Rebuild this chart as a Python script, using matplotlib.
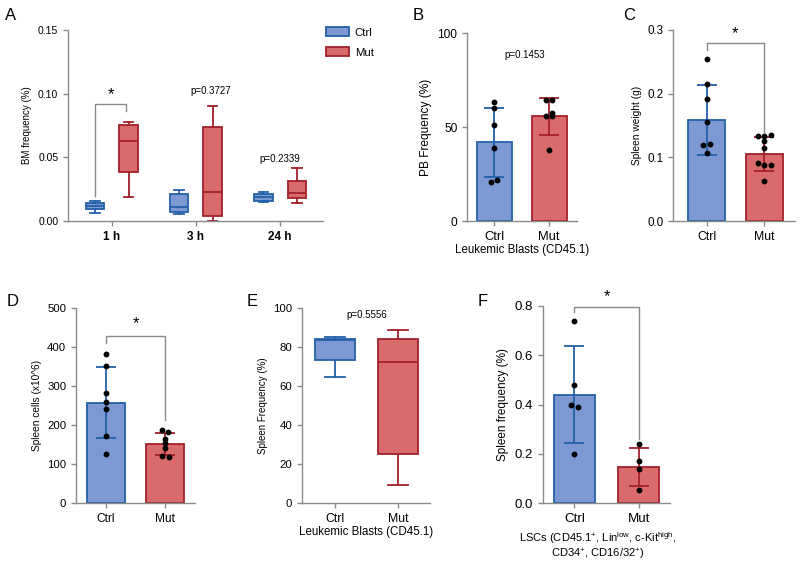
import numpy as np
import matplotlib
matplotlib.use("Agg")
import matplotlib.pyplot as plt
from matplotlib.patches import Patch

plt.rcParams['font.family'] = ['Liberation Sans', 'DejaVu Sans']
plt.rcParams['mathtext.fontset'] = 'custom'
plt.rcParams['mathtext.rm'] = 'Liberation Sans'
plt.rcParams['mathtext.it'] = 'Liberation Sans:italic'

# ---- data ----
groups = ["Ctrl", "Mut"]
timepoints = ["1 h", "3 h", "24 h"]

# panel A box stats: (whislo, q1, med, q3, whishi)
bm_ctrl = [(0.006, 0.0092, 0.0118, 0.0141, 0.016),
           (0.0052, 0.0068, 0.0107, 0.021, 0.0246),
           (0.0149, 0.0157, 0.0186, 0.021, 0.0228)]
bm_mut = [(0.0188, 0.0387, 0.063, 0.075, 0.078),
          (0.0, 0.0042, 0.0225, 0.074, 0.090),
          (0.0141, 0.0178, 0.022, 0.0312, 0.0419)]
bm_pvals = ["*", "p=0.3727", "p=0.2339"]

# panel B: PB frequency (%)
pb_ctrl = [63.1, 60.0, 50.8, 38.9, 20.6, 21.7]
pb_mut = [64.5, 64.1, 56.1, 57.5, 55.6, 37.8]
pb_mean = [41.9, 55.6]
pb_sd = [18.4, 9.8]

# panel C: spleen weight (g)
sw_ctrl = [0.2545, 0.215, 0.1916, 0.155, 0.1188, 0.1215, 0.1068]
sw_mut = [0.134, 0.134, 0.135, 0.126, 0.114, 0.091, 0.088, 0.088, 0.063]
sw_mean = [0.1586, 0.1058]
sw_sd = [0.0555, 0.0265]

# panel D: spleen cells (x10^6)
sc_ctrl = [382, 352, 283, 259, 242, 173, 126]
sc_mut = [186, 183, 165, 153, 141, 120, 118]
sc_mean = [257, 151]
sc_sd = [91, 28]

# panel E: spleen frequency box stats
sf_ctrl = (64.4, 73.2, 83.6, 84.2, 85.0)
sf_mut = (9.1, 25.3, 72.3, 84.1, 88.5)

# panel F: LSC spleen frequency (%)
lsc_ctrl = [0.740, 0.480, 0.400, 0.391, 0.200]
lsc_mut = [0.241, 0.172, 0.139, 0.053]
lsc_mean = [0.44, 0.1475]
lsc_sd = [0.197, 0.077]

# horizontal scatter of the dots (style only)
jit_B = ([0, 0, 0, 0, -0.07, 0.05], [-0.055, 0.05, -0.06, 0.06, 0.06, 0])
jit_C = ([0, 0, 0, 0, -0.06, 0.06, 0], [-0.115, 0, 0.115, 0, 0, -0.115, 0, 0.115, 0])
jit_D = ([0] * 7, [-0.06, 0.05, 0, 0, 0, -0.06, 0.06])
jit_F = ([0, 0, -0.05, 0.06, 0], [0, 0, 0, 0])

# ---- style ----
BLUE_F, BLUE_E = "#7d99d3", "#2360a8"
RED_F, RED_E = "#d96b6c", "#a3202a"
GREY = "#8a8a8a"
fills = [BLUE_F, RED_F]
edges = [BLUE_E, RED_E]

W, H = 800, 562
fig = plt.figure(figsize=(W / 100, H / 100), dpi=100)


def add_ax(l, r, t, b):
    return fig.add_axes([l / W, 1 - b / H, (r - l) / W, (b - t) / H])


def style(ax, ts):
    for s in ["top", "right"]:
        ax.spines[s].set_visible(False)
    for s in ["left", "bottom"]:
        ax.spines[s].set_color(GREY)
        ax.spines[s].set_linewidth(1.0)
    ax.tick_params(colors=GREY, labelcolor="black", length=3.5, width=1.0, labelsize=ts)


def bars(ax, mean, sd, pts_c, pts_m, jit, gs, width=0.64):
    x = np.arange(2)
    ax.bar(x, mean, width=width, color=fills, edgecolor=edges, linewidth=1.3, zorder=2)
    for i, pts in enumerate([pts_c, pts_m]):
        ax.errorbar(x[i], mean[i], yerr=sd[i], color=edges[i], capsize=7, elinewidth=1.3,
                    capthick=1.3, zorder=3)
        ax.plot(x[i] + np.array(jit[i]), pts, "o", color="black", ms=3.2, zorder=4)
    ax.set_xticks(x)
    ax.set_xticklabels(groups, fontsize=gs)


def bracket(ax, x0, x1, y, yl, yr, star_y):
    ax.plot([x0, x0, x1, x1], [yl, y, y, yr], color=GREY, lw=1.0, clip_on=False, zorder=5)
    ax.text((x0 + x1) / 2, star_y, "*", ha="center", va="center", fontsize=12, clip_on=False)


def bstats(v):
    return dict(whislo=v[0], q1=v[1], med=v[2], q3=v[3], whishi=v[4], fliers=[])


def boxes(ax, stats, pos, width, fc, ec):
    ax.bxp([bstats(s) for s in stats], positions=pos, widths=width, patch_artist=True,
           showfliers=False,
           boxprops=dict(facecolor=fc, edgecolor=ec, linewidth=1.3),
           medianprops=dict(color=ec, linewidth=1.3),
           whiskerprops=dict(color=ec, linewidth=1.3),
           capprops=dict(color=ec, linewidth=1.3))


# ---- A ----
axA = add_ax(68, 323, 30, 221)
style(axA, 7.5)
xa = np.arange(3)
boxes(axA, bm_ctrl, xa - 0.2, 0.22, BLUE_F, BLUE_E)
boxes(axA, bm_mut, xa + 0.2, 0.22, RED_F, RED_E)
axA.set_xlim(-0.52, 2.51)
axA.set_ylim(0, 0.15)
axA.set_yticks([0, 0.05, 0.10, 0.15])
axA.set_yticklabels(["0.00", "0.05", "0.10", "0.15"])
axA.set_xticks(xa)
axA.set_xticklabels(timepoints, fontweight="bold", fontsize=8.5)
axA.set_ylabel("BM frequency (%)", fontsize=7)
bracket(axA, -0.2, 0.17, 0.0916, 0.0193, 0.0864, 0.0995)
axA.text(1.18, 0.102, bm_pvals[1], ha="center", va="center", fontsize=7)
axA.text(2.0, 0.049, bm_pvals[2], ha="center", va="center", fontsize=7)
fig.legend([Patch(facecolor=BLUE_F, edgecolor=BLUE_E, linewidth=1.3),
            Patch(facecolor=RED_F, edgecolor=RED_E, linewidth=1.3)], groups,
           loc="upper left", bbox_to_anchor=(316 / W, 1 - 17 / H), frameon=False,
           fontsize=8.2, handlelength=2.0, handleheight=0.8, labelspacing=0.85, handletextpad=0.5)

# ---- B ----
axB = add_ax(467, 577, 33, 221)
style(axB, 8.6)
bars(axB, pb_mean, pb_sd, pb_ctrl, pb_mut, jit_B, 9.3)
axB.set_xlim(-0.5, 1.51)
axB.set_ylim(0, 100)
axB.set_yticks([0, 50, 100])
axB.set_ylabel("PB Frequency (%)", fontsize=8.6)
axB.set_xlabel("Leukemic Blasts (CD45.1)", fontsize=8.3, labelpad=1)
axB.text(0.55, 88.5, "p=0.1453", ha="center", va="center", fontsize=7)

# ---- C ----
axC = add_ax(673, 795, 30, 221)
style(axC, 8.4)
bars(axC, sw_mean, sw_sd, sw_ctrl, sw_mut, jit_C, 8.8)
axC.set_xlim(-0.58, 1.53)
axC.set_ylim(0, 0.3)
axC.set_yticks([0, 0.1, 0.2, 0.3])
axC.set_yticklabels(["0.0", "0.1", "0.2", "0.3"])
axC.set_ylabel("Spleen weight (g)", fontsize=7.3)
bracket(axC, 0, 1, 0.279, 0.2686, 0.1377, 0.295)

# ---- D ----
axD = add_ax(76, 195, 308, 503)
style(axD, 8.2)
bars(axD, sc_mean, sc_sd, sc_ctrl, sc_mut, jit_D, 8.6)
axD.set_xlim(-0.5, 1.5)
axD.set_ylim(0, 500)
axD.set_yticks(range(0, 501, 100))
axD.set_ylabel("Spleen cells (x10^6)", fontsize=7.3)
bracket(axD, 0, 1, 428, 410, 213, 459)

# ---- E ----
axE = add_ax(302, 430, 308, 503)
style(axE, 8.2)
boxes(axE, [sf_ctrl], [0], 0.63, BLUE_F, BLUE_E)
boxes(axE, [sf_mut], [1], 0.63, RED_F, RED_E)
axE.set_xlim(-0.52, 1.5)
axE.set_ylim(0, 100)
axE.set_yticks(range(0, 101, 20))
axE.set_xticks([0, 1])
axE.set_xticklabels(groups, fontsize=8.8)
axE.set_ylabel("Spleen Frequency (%)", fontsize=7)
axE.set_xlabel("Leukemic Blasts (CD45.1)", fontsize=8.3, labelpad=1)
axE.text(0.5, 96.5, "p=0.5556", ha="center", va="center", fontsize=7)

# ---- F ----
axF = add_ax(543, 670, 306, 503)
style(axF, 9.5)
bars(axF, lsc_mean, lsc_sd, lsc_ctrl, lsc_mut, jit_F, 9.6)
axF.set_xlim(-0.49, 1.49)
axF.set_ylim(0, 0.8)
axF.set_yticks([0, 0.2, 0.4, 0.6, 0.8])
axF.set_yticklabels(["0.0", "0.2", "0.4", "0.6", "0.8"])
axF.set_ylabel("Spleen frequency (%)", fontsize=8.5)
axF.set_xlabel("LSCs (CD45.1$^{\\mathregular{+}}$, Lin$^{\\mathregular{low}}$, "
               "c-Kit$^{\\mathregular{high}}$,\nCD34$^{\\mathregular{+}}$, "
               "CD16/32$^{\\mathregular{+}}$)",
               fontsize=8, labelpad=2, linespacing=1.0)
axF.xaxis.set_label_coords(0.43, -0.14)
bracket(axF, 0, 1, 0.796, 0.775, 0.261, 0.84)

# panel letters
for lab, px, py in [("A", 5, 15), ("B", 413, 15), ("C", 623, 15),
                    ("D", 7, 302), ("E", 247, 302), ("F", 478, 302)]:
    fig.text(px / W, 1 - py / H, lab, fontsize=12, ha="left", va="center")

fig.savefig("out.png", dpi=100, facecolor="white")
